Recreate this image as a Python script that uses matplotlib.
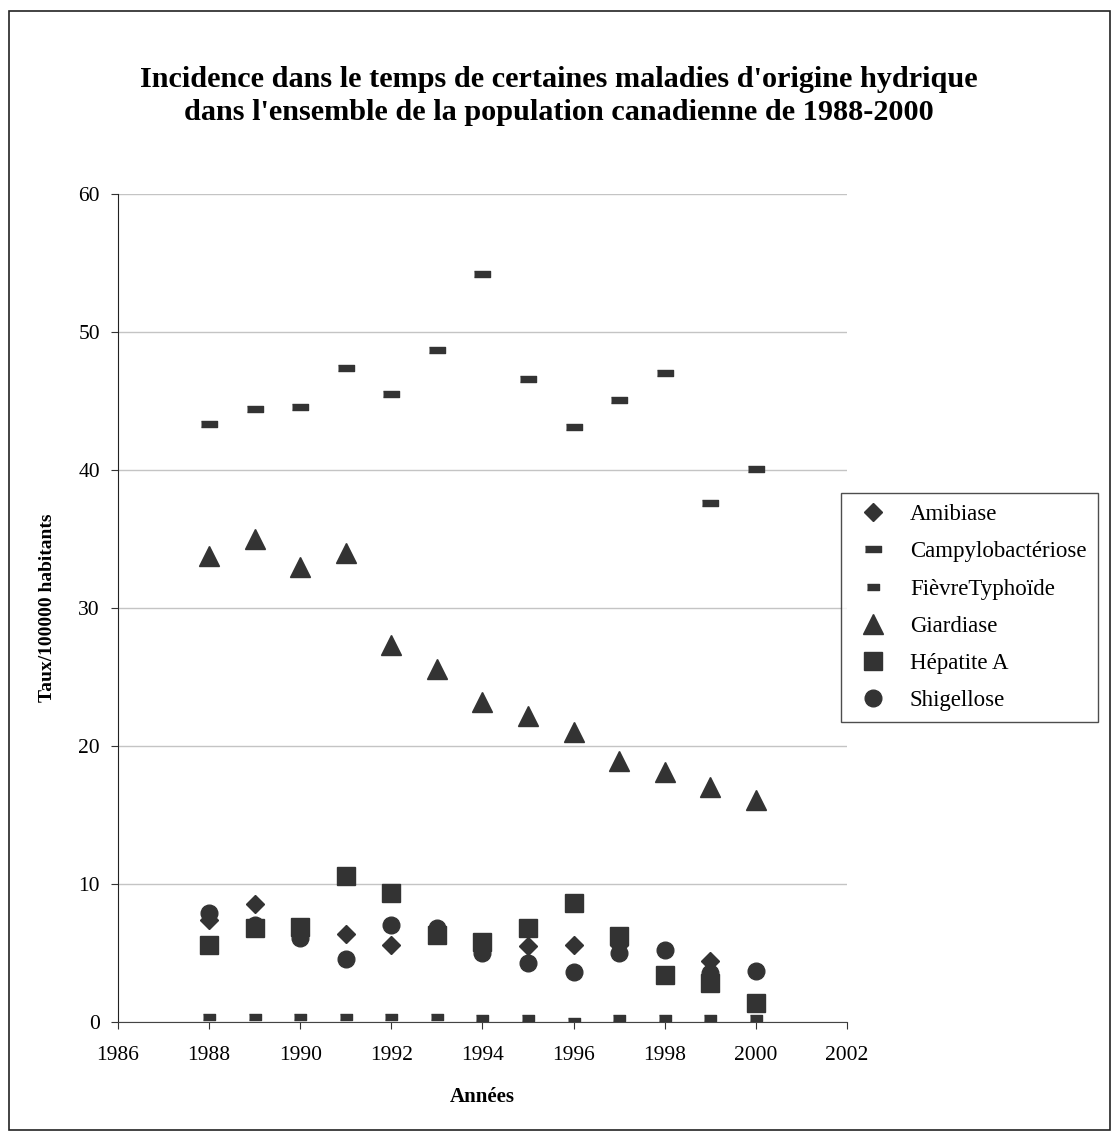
import matplotlib
matplotlib.use("Agg")
import matplotlib.pyplot as plt
from matplotlib.patches import Rectangle

plt.rcParams["font.family"] = ["Liberation Serif", "DejaVu Serif"]

years = [1988, 1989, 1990, 1991, 1992, 1993, 1994, 1995, 1996, 1997, 1998, 1999, 2000]
amibiase = [7.4, 8.55, 6.6, 6.4, 5.6, 6.5, 5.7, 5.5, 5.6, 5.6, 3.4, 4.45, 1.4]
campylo = [43.3, 44.4, 44.6, 47.4, 45.5, 48.7, 54.2, 46.6, 43.1, 45.1, 47.0, 37.6, 40.1]
fievre = [0.38, 0.38, 0.35, 0.35, 0.35, 0.35, 0.3, 0.3, 0.05, 0.3, 0.3, 0.3, 0.3]
giardiase = [33.8, 35.0, 33.0, 34.0, 27.3, 25.6, 23.2, 22.2, 21.0, 18.9, 18.1, 17.0, 16.1]
hepatite = [5.6, 6.8, 6.9, 10.6, 9.35, 6.3, 5.8, 6.8, 8.65, 6.2, 3.4, 2.8, 1.4]
shigellose = [7.9, 7.0, 6.1, 4.6, 7.0, 6.8, 5.0, 4.3, 3.6, 5.0, 5.2, 3.55, 3.7]

col = "#333333"
campy_mk = [(-1.5, -0.5), (1.5, -0.5), (1.5, 0.5), (-1.5, 0.5)]
fievre_mk = [(-1, -0.55), (1, -0.55), (1, 0.55), (-1, 0.55)]

fig = plt.figure(figsize=(11.17, 11.39), dpi=100)
ax = fig.add_axes([0.1056, 0.1027, 0.6527, 0.727])

ax.plot(years, amibiase, ls="none", marker="D", ms=9, color=col, label="Amibiase")
ax.plot(years, campylo, ls="none", marker=campy_mk, ms=11, color=col, label="Campylobactériose")
ax.plot(years, fievre, ls="none", marker=fievre_mk, ms=8, color=col, label="FièvreTyphoïde")
ax.plot(years, giardiase, ls="none", marker="^", ms=15, color=col, label="Giardiase")
ax.plot(years, hepatite, ls="none", marker="s", ms=13.5, color=col, label="Hépatite A")
ax.plot(years, shigellose, ls="none", marker="o", ms=12, color=col, label="Shigellose")

ax.set_xlim(1986, 2002)
ax.set_ylim(0, 60)
ax.set_xticks(range(1986, 2003, 2))
ax.set_yticks(range(0, 61, 10))
ax.yaxis.grid(True, color="#c4c4c4", lw=1)
ax.set_axisbelow(True)
for s in ["top", "right"]:
    ax.spines[s].set_visible(False)
ax.spines["left"].set_color("#222222")
ax.spines["bottom"].set_color("#444444")
ax.tick_params(axis="both", labelsize=15.5, direction="out", length=5, color="#333333", pad=12)
ax.tick_params(axis="y", pad=8)

ax.set_xlabel("Années", fontsize=15, fontweight="bold", labelpad=16)
ax.set_ylabel("Taux/100000 habitants", fontsize=14, fontweight="bold", labelpad=16)

fig.suptitle("Incidence dans le temps de certaines maladies d'origine hydrique\n"
             "dans l'ensemble de la population canadienne de 1988-2000",
             fontsize=21.8, fontweight="bold", y=0.942, linespacing=1.3)

leg = ax.legend(loc="upper left", bbox_to_anchor=(0.992, 0.639), borderaxespad=0,
                fontsize=16.5, frameon=True, fancybox=False, edgecolor="#222222",
                borderpad=0.5, labelspacing=0.7, handletextpad=0.7, handlelength=1.8)
leg.get_frame().set_linewidth(1.0)

fig.patches.append(Rectangle((0.008, 0.008), 0.986, 0.982, transform=fig.transFigure,
                             fill=False, edgecolor="#222222", lw=1.2))

fig.savefig("out.png", dpi=100, facecolor="white")
